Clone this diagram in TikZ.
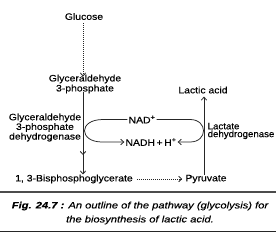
\documentclass[tikz,border=0pt]{standalone}
\usepackage{fontspec}
\setmainfont{Liberation Sans}[FakeStretch=1.12,FakeBold=0.3]
\newfontfamily\capfont{Liberation Sans}[FakeStretch=1.2,FakeBold=0.3]
\newfontfamily\ldhfont{Liberation Sans}[FakeStretch=1.04,FakeBold=0.3]
\usetikzlibrary{arrows.meta}
\begin{document}
\begin{tikzpicture}[x=1pt,y=-1pt,
  lbl/.style={inner sep=1pt,font=\fontsize{9.3}{10}\selectfont,align=center},
  tight/.style={inner sep=1pt,font=\fontsize{9.3}{7.8}\selectfont,align=center},
  conn/.style={line width=0.75pt,draw=black!85},
  tip/.style={-{Straight Barb[length=3pt,width=5.5pt,line width=0.8pt]}},
  dotline/.style={dash pattern=on 0.7pt off 1.3pt}]
\useasboundingbox (0,0) rectangle (276,234);
% nodes
\node[lbl] (glucose) at (84,16.5) {Glucose};
\node[lbl] (gap) at (85,84) {Glyceraldehyde\\3-phosphate};
\node[lbl] (lactic) at (203,90) {Lactic acid};
\node[tight] (gapdh) at (45,127.5) {Glyceraldehyde\\3-phosphate\\dehydrogenase};
\node[tight,anchor=west,font=\ldhfont\fontsize{9.3}{7.8}\selectfont,align=left] (ldh) at (206.5,131) {Lactate\\dehydrogenase};
\node[lbl] (nad) at (142,119.5) {NAD\textsuperscript{+}};
\node[lbl] (nadh) at (151,142) {NADH\,+\,H\textsuperscript{+}};
\node[lbl] (bpg) at (74,179) {1, 3-Bisphosphoglycerate};
\node[lbl] (pyr) at (206,179) {Pyruvate};
\coordinate (lx) at (83,0);
\coordinate (rx) at (204,0);
\coordinate (mx) at (83,155);
% connectors
\draw[conn,dotline,tip] (glucose.south -| lx) ++(0,2) -- ([yshift=-3pt]gap.north -| lx);
\draw[conn,tip] ([yshift=3pt]gap.south -| lx) -- (mx);
\draw[conn,tip] ([yshift=1pt]mx) -- ([yshift=-1pt]bpg.north -| lx);
\draw[conn,dotline] (bpg.east) ++(3,0) -- ([xshift=-2pt]pyr.west);
\draw[conn,tip] ([xshift=-5pt]pyr.west) -- ([xshift=-2pt]pyr.west);
\draw[conn,tip] ([yshift=-1pt]pyr.north -| rx) -- ([yshift=-2pt]lactic.south -| rx);
\draw[conn,tip] (nad.west) -- (103,119.5) .. controls (78,119.5) and (79,142) .. (102,142) -- (nadh.west);
\draw[conn,tip] (nad.east) -- (190,119.5) .. controls (208,119.5) and (208,142) .. (190,142) -- (nadh.east);
% caption
\draw[line width=1.2pt,draw=black!70] (0,192) -- (276,192);
\draw[line width=1.4pt,draw=black!85] (0,231.5) -- (276,231.5);
\node[inner sep=0pt,font=\capfont\itshape\fontsize{9.3}{14}\selectfont,align=center] (cap) at (140,213)
  {\textbf{Fig. 24.7 :} An outline of the pathway (glycolysis) for\\the biosynthesis of lactic acid.};
\end{tikzpicture}
\end{document}
